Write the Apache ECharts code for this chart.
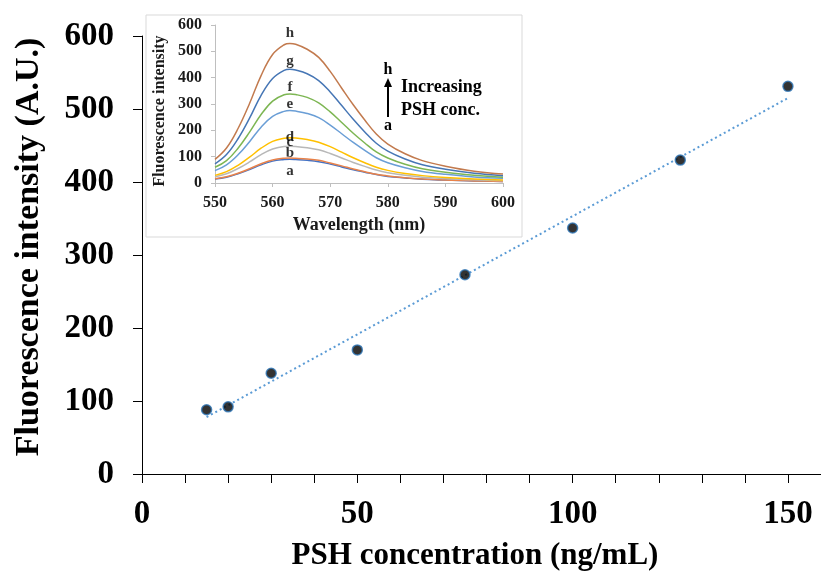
<!DOCTYPE html>
<html>
<head>
<meta charset="utf-8">
<script src="https://cdn.jsdelivr.net/npm/echarts@6/dist/echarts.min.js"></script>
<style>html,body{margin:0;padding:0;background:#fff;}#c{width:821px;height:580px;}</style>
</head>
<body>
<div id="c"></div>
<script>
// ---- main calibration data ----
const concentrations = [15, 20, 30, 50, 75, 100, 125, 150];
const intensities = [88, 92, 138, 170, 273, 337, 430, 531];
const trendX = [15, 150];
const trendY = [78, 515];
const xTicks = [0, 50, 100, 150];
const yTicks = [0, 100, 200, 300, 400, 500, 600];

// ---- inset spectra ----
const wavelengths = [550,552,554,556,558,560,562,563,564,566,568,570,572,574,576,578,580,583,586,590,595,600];
const specA = [15,22,35,51,69,83,89,90,89,86,81,72,61,50,41,32,25,19,14,11,8,6];
const specB = [16,24,37,54,73,87,94,95,94,91,86,76,65,53,43,33,27,20,15,11,8,6];
const specC = [24,35,55,80,108,129,139,140,139,134,126,112,95,78,63,49,39,29,22,17,12,9];
const specD = [29,43,67,98,132,158,170,172,171,165,155,138,117,96,77,60,48,36,28,21,15,11];
const specE = [47,69,107,157,212,253,272,275,273,264,248,220,187,154,124,96,77,58,44,33,23,18];
const specF = [60,85,132,193,260,311,335,338,336,325,304,270,230,189,152,118,95,71,54,41,29,22];
const specG = [73,108,168,246,333,397,428,432,429,415,389,346,294,242,194,151,121,91,69,52,37,28];
const specH = [90,133,207,302,408,488,525,530,527,508,477,424,360,297,239,186,148,111,85,64,45,34];
const specNames = ['a','b','c','d','e','f','g','h'];
const specColors = ['#4472C4','#E8824A','#B8B8B8','#FFC000','#6A9ED6','#7DB653','#4676B5','#C27A4E'];
const specLabelY = [44, 115, 154, 175, 301, 365, 461, 571];
const specLabelX = 563;

const serif = '"Times New Roman", "Liberation Serif", serif';
const chart = echarts.init(document.getElementById('c'), null, {renderer: 'canvas'});

const specs = [specA, specB, specC, specD, specE, specF, specG, specH];
const specSeries = specs.map((s, i) => ({
  type: 'line', xAxisIndex: 1, yAxisIndex: 1, name: specNames[i],
  data: wavelengths.map((w, j) => [w, s[j]]),
  smooth: 0.4, symbol: 'none', z: 5,
  lineStyle: {color: specColors[i], width: 1.5}
}));

const option = {
  backgroundColor: '#fff',
  animation: false,
  grid: [
    {left: 142, width: 689, top: 36, height: 438, containLabel: false, outerBoundsMode: 'none'},
    {left: 215, right: 318, top: 25, bottom: 397, containLabel: false, outerBoundsMode: 'none'}
  ],
  xAxis: [
    {type: 'value', min: 0, max: 160, interval: 10, gridIndex: 0,
     axisLine: {show: true, onZero: false, lineStyle: {color: '#000', width: 1}},
     axisTick: {show: true, inside: false, length: 9, lineStyle: {color: '#000', width: 1}},
     splitLine: {show: false},
     axisLabel: {margin: 24, fontFamily: serif, fontWeight: 'bold', fontSize: 33, color: '#000',
       formatter: v => xTicks.indexOf(v) >= 0 ? String(v) : ''}},
    {type: 'value', min: 550, max: 600, interval: 10, gridIndex: 1,
     name: 'Wavelength (nm)', nameLocation: 'middle', nameGap: 33,
     nameTextStyle: {fontFamily: serif, fontWeight: 'bold', fontSize: 18, color: '#1a1a1a'},
     axisLine: {show: true, onZero: false, lineStyle: {color: '#BFBFBF', width: 1}},
     axisTick: {show: true, length: 4, lineStyle: {color: '#BFBFBF'}},
     splitLine: {show: false},
     axisLabel: {margin: 12, fontFamily: serif, fontWeight: 'bold', fontSize: 16, color: '#1a1a1a'}}
  ],
  yAxis: [
    {type: 'value', min: 0, max: 600, interval: 100, gridIndex: 0,
     axisLine: {show: true, lineStyle: {color: '#000', width: 1}},
     axisTick: {show: true, length: 9, lineStyle: {color: '#000', width: 1}},
     splitLine: {show: false},
     axisLabel: {margin: 28, fontFamily: serif, fontWeight: 'bold', fontSize: 33, color: '#000',
       formatter: v => yTicks.indexOf(v) >= 0 ? String(v) : ''}},
    {type: 'value', min: 0, max: 600, interval: 100, gridIndex: 1,
     axisLine: {show: true, lineStyle: {color: '#BFBFBF', width: 1}},
     axisTick: {show: true, length: 4, lineStyle: {color: '#BFBFBF'}},
     splitLine: {show: false},
     axisLabel: {margin: 13, fontFamily: serif, fontWeight: 'bold', fontSize: 16, color: '#1a1a1a'}}
  ],
  graphic: [
    {type: 'text', x: 475, y: 556,
     style: {text: 'PSH concentration (ng/mL)', font: 'bold 31px ' + serif, fill: '#000', align: 'center', verticalAlign: 'middle'}},
    {type: 'text', x: 29, y: 247, rotation: Math.PI / 2,
     style: {text: 'Fluorescence intensity (A.U.)', font: 'bold 34px ' + serif, fill: '#000', align: 'center', verticalAlign: 'middle'}},
    {type: 'rect', shape: {x: 146, y: 15, width: 376, height: 222},
     style: {fill: 'none', stroke: '#D9D9D9', lineWidth: 1}, z: 1},
    {type: 'text', x: 160, y: 111, rotation: Math.PI / 2,
     style: {text: 'Fluorescence intensity', font: 'bold 16px ' + serif, fill: '#1a1a1a', align: 'center', verticalAlign: 'middle'}},
    {type: 'text', x: 388, y: 70, style: {text: 'h', font: 'bold 16px ' + serif, fill: '#000', align: 'center', verticalAlign: 'middle'}},
    {type: 'line', shape: {x1: 388, y1: 117, x2: 388, y2: 85}, style: {stroke: '#000', lineWidth: 2}},
    {type: 'polygon', shape: {points: [[384, 87], [392, 87], [388, 78]]}, style: {fill: '#000'}},
    {type: 'text', x: 388, y: 126, style: {text: 'a', font: 'bold 16px ' + serif, fill: '#000', align: 'center', verticalAlign: 'middle'}},
    {type: 'text', x: 401, y: 87, style: {text: 'Increasing', font: 'bold 18px ' + serif, fill: '#000', align: 'left', verticalAlign: 'middle'}},
    {type: 'text', x: 401, y: 110, style: {text: 'PSH conc.', font: 'bold 18px ' + serif, fill: '#000', align: 'left', verticalAlign: 'middle'}}
  ],
  series: [
    {type: 'line', name: 'trend', xAxisIndex: 0, yAxisIndex: 0,
     data: trendX.map((x, i) => [x, trendY[i]]), symbol: 'none',
     lineStyle: {color: '#5B9BD5', width: 2, type: [2, 3]}, z: 3},
    {type: 'scatter', name: 'data', xAxisIndex: 0, yAxisIndex: 0,
     data: concentrations.map((x, i) => [x, intensities[i]]),
     symbol: 'circle', symbolSize: 10,
     itemStyle: {color: '#000', borderColor: '#2E75B6', borderWidth: 1.5}, z: 4},
    ...specSeries,
    {type: 'scatter', name: 'labels', xAxisIndex: 1, yAxisIndex: 1,
     data: specNames.map((n, i) => ({name: n, value: [specLabelX, specLabelY[i]]})),
     symbolSize: 0, z: 6,
     label: {show: true, position: 'inside', formatter: p => p.name,
       fontFamily: serif, fontWeight: 'bold', fontSize: 15, color: '#000'}}
  ]
};
chart.setOption(option);
</script>
</body>
</html>
